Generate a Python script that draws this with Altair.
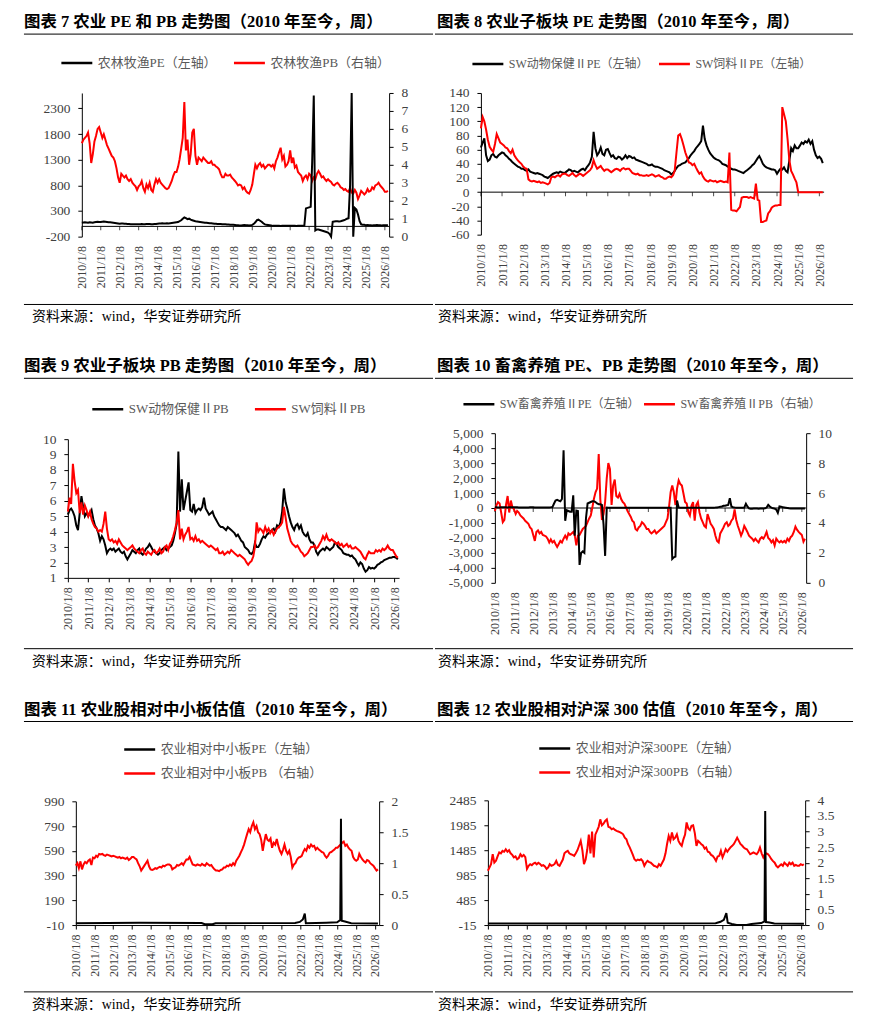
import altair as alt
import pandas as pd

# ------------------------------------------------------------------ dates
MONTH_DATES = list(pd.date_range("2010-01-01", periods=195, freq="MS") + pd.Timedelta(days=7))
YEAR_TICK_DATES = list(pd.to_datetime([f"{y}-01-08" for y in range(2010, 2027)]))

# ------------------------------------------------------------------ 图表7 农林牧渔 PE / PB (monthly, 2010-01 .. 2026-03)
P7_PE = [
    70, 75, 80, 75, 70, 80, 75, 70, 80, 85, 90, 85,
    85, 90, 95, 90, 85, 80, 80, 75, 70, 65, 60, 55,
    50, 55, 55, 50, 50, 45, 45, 40, 40, 40, 40, 40,
    40, 40, 45, 40, 40, 45, 45, 45, 40, 40, 45, 45,
    50, 55, 55, 60, 55, 55, 60, 55, 60, 65, 70, 75,
    80, 85, 100, 120, 150, 175, 160, 140, 150, 130, 120, 110,
    100, 95, 90, 85, 80, 75, 70, 70, 65, 60, 60, 55,
    50, 50, 45, 45, 45, 40, 40, 40, 35, 35, 30, 30,
    30, 25, 20, 20, 15, 15, 20, 25, 20, 20, 15, 20,
    30, 50, 80, 120, 130, 110, 90, 60, 40, 30, 25, 20,
    15, 10, 10, 12, 10, 10, 8, 10, 10, 12, 10, 10,
    10, 12, 10, 10, 8, 10, 10, 12, 10, 15, 350, 360,
    370, 380, 1250, 2550, -80, -60, -60, -70, -80, -90, -100, -110,
    -120, -150, -200, 90, 95, 100, 100, 95, 100, 110, 120, 130,
    150, 160, 800, 3000, -500, 360, 330, 230, 100, 40, 30, 30,
    20, 25, 20, 20, 15, 20, 20, 25, 20, 20, 15, 20,
    20, 20, 20,
]
P7_PB = [
    5.2, 5.4, 5.5, 5.6, 5.8, 5.2, 4.1, 4.6, 5.3, 5.6, 6.0, 6.1,
    5.8, 5.5, 5.7, 5.4, 5.1, 4.9, 4.7, 4.5, 4.4, 4.2, 3.8, 3.3,
    3.0, 3.5, 3.4, 3.3, 3.4, 3.2, 3.1, 3.2, 3.0, 2.9, 2.8, 2.6,
    2.8, 2.9, 3.1, 2.7, 2.5, 2.9, 2.7, 3.0, 2.6, 2.5, 2.9, 3.2,
    3.0, 3.2, 3.0, 2.9, 2.8, 2.7, 2.65, 2.7, 2.9, 3.1, 3.4, 3.6,
    3.6, 3.9, 4.3, 4.9, 5.5, 7.5, 4.8, 5.4, 4.0, 4.6, 5.8, 6.0,
    4.5, 4.0, 4.4, 4.3, 4.2, 4.4, 4.3, 4.2, 4.1, 4.1, 4.2, 4.0,
    4.0, 3.9, 3.85, 3.75, 3.5, 3.3, 3.3, 3.5, 3.4, 3.4, 3.45, 3.3,
    3.2, 3.1, 3.0, 2.85, 2.9, 2.85, 2.65, 2.75, 2.55, 2.45, 2.4, 2.6,
    2.9, 3.5, 4.0, 3.8, 4.0, 4.1, 3.9, 4.0, 3.8, 3.9, 4.0, 4.0,
    3.9, 4.0, 3.8, 4.2, 4.4, 4.7, 4.95, 4.3, 4.5, 3.9, 4.0, 4.2,
    4.8, 4.1, 4.4, 3.85, 3.95, 3.6, 3.5, 3.4, 3.1, 3.3, 3.4, 3.2,
    3.5, 3.4, 3.1, 3.3, 3.2, 3.5, 3.65, 3.5, 3.3, 3.35, 3.2, 3.1,
    3.2, 3.1, 3.05, 2.9, 2.85, 2.95, 3.0, 2.9, 2.75, 2.7, 2.6, 2.65,
    2.55, 2.5, 2.7, 2.45, 2.4, 2.6, 2.45, 2.1, 2.3, 2.55, 2.45, 2.35,
    2.45, 2.65, 2.5, 2.55, 2.75, 2.65, 2.85, 2.9, 3.0, 2.85, 2.75, 2.65,
    2.5, 2.5, 2.55,
]

# ------------------------------------------------------------------ 图表8 子板块 PE
P8_VET_PE = [
    63, 70, 76, 52, 44, 46, 52, 54, 50, 49, 52, 54,
    56, 55, 52, 50, 47, 45, 42, 40, 38, 36, 35, 33,
    33, 31, 30, 32, 29, 28, 27, 26, 27, 26, 25, 24,
    22, 21, 20, 22, 24, 26, 27, 28, 27, 29, 28, 27,
    28, 30, 32, 31, 29, 30, 29, 28, 30, 32, 33, 31,
    35, 38, 42, 50, 85, 62, 52, 56, 63, 54, 52, 60,
    61, 55, 50, 52, 48, 47, 50, 49, 46, 48, 52, 48,
    51, 50, 48, 49, 46, 45, 44, 43, 42, 41, 40, 38,
    38, 39, 37, 36, 36, 35, 34, 33, 31, 30, 29, 28,
    25, 27, 30, 34, 37, 38, 40, 41, 42, 45, 48, 52,
    55, 58, 62, 65, 68, 72, 94, 75, 66, 60, 55, 52,
    49, 47, 46, 45, 43, 40, 39, 38, 36, 35, 33, 32,
    32, 31, 30, 29, 28, 27, 29, 31, 33, 35, 38, 40,
    44, 48, 51, 46, 40, 37, 35, 34, 33, 32, 32, 31,
    26, 30, 33, 32, 35, 30, 28, 45, 62, 58, 66, 62,
    62, 66, 70, 68, 72, 70, 74, 68, 72, 60, 52, 48,
    50, 47, 41,
]
P8_FEED_PE = [
    90, 106, 100, 88, 74, 64, 60, 57, 68, 82, 76, 70,
    68, 66, 63, 62, 58, 55, 60, 52, 48, 45, 42, 40,
    36, 34, 33, 18, 16, 15, 16, 15, 14, 15, 13, 14,
    13, 12, 11, 13, 21, 22, 21, 23, 24, 22, 25, 26,
    26, 24, 23, 25, 27, 24, 22, 24, 26, 25, 23, 25,
    27, 29, 31, 35, 45, 38, 33, 35, 37, 33, 30, 32,
    32, 30, 28, 30, 32, 33, 32, 30, 33, 34, 32, 33,
    33, 30, 27, 26, 25, 26, 24, 24, 23, 23, 24, 23,
    24, 25, 24, 22, 23, 24, 22, 21, 19, 19, 21, 22,
    21, 24, 30, 56, 80, 82, 75, 66, 56, 49, 42, 41,
    38, 40, 35, 30, 26, 28, 22, 18, 16, 15, 17, 16,
    15, 16, 14, 15, 16, 15, 14, 15, 14, 56, -25, -26,
    -26, -27, -24, -21, -8, -7, -7, -7, -8, -7, -8, -9,
    12, -11, -12, -42, -42, -41, -40, -30, -27, -22, -20, -19,
    -19, -18, -18, 120, 110, 100, 75, 45, 30, 25, 19, 14,
    0, 0, 0, 0, 0, 0, 0, 0, 0, 0, 0, 0,
    0, 0, 0,
]

# ------------------------------------------------------------------ 图表9 子板块 PB
P9_VET_PB = [
    5.1, 5.4, 5.5, 5.3, 5.0, 4.4, 4.1, 5.2, 6.3, 5.6, 5.0, 5.2,
    5.0, 5.2, 5.4, 4.8, 4.4, 4.2, 3.9, 3.4, 3.7, 3.5, 3.1, 2.6,
    2.8, 2.9, 2.8, 2.9, 2.7, 2.8, 2.9, 2.7, 2.6, 2.7, 2.4, 2.2,
    2.4, 2.6, 2.8, 2.7, 2.6, 2.8, 2.9, 2.6, 2.5, 2.7, 2.9, 3.0,
    3.2, 3.0, 2.8, 2.7, 2.6, 2.5, 2.6, 2.8, 2.9, 3.0, 2.8, 2.9,
    3.0, 3.1, 3.4, 3.9, 4.5, 9.2, 5.3, 7.4, 5.4, 6.0, 6.6, 7.2,
    5.4, 5.3, 5.8, 5.2, 5.4, 5.5, 5.4, 5.6, 6.2, 5.5, 5.3, 5.1,
    5.2, 5.3, 5.0, 4.8, 4.6, 4.4, 4.3, 4.3, 4.2, 4.1, 4.3, 4.2,
    4.1, 4.0, 3.9, 3.7, 3.8, 3.6, 3.4, 3.3, 3.0, 2.9, 2.8, 2.6,
    2.55, 2.7, 3.25, 3.0, 3.0, 3.2, 3.5, 3.7, 3.6, 3.8, 3.9, 4.0,
    4.1, 4.2, 4.0, 4.4, 4.3, 4.6, 5.3, 6.8, 5.9, 5.5, 5.0, 4.6,
    4.3, 4.1, 4.4, 4.5, 4.2, 4.4, 4.0, 3.8, 3.7, 3.9, 3.5, 3.3,
    3.3, 3.1, 2.7, 2.5, 2.7, 2.8, 2.9, 2.8, 3.0, 2.9, 2.8, 2.9,
    3.0, 3.3, 3.2, 3.0, 2.9, 2.8, 2.6, 2.55, 2.5, 2.5, 2.4, 2.45,
    2.3, 2.2, 2.0, 1.8, 2.0, 1.9, 1.6, 1.4, 1.5, 1.7, 1.6, 1.65,
    1.6, 1.7, 1.85, 1.9, 2.0, 2.05, 2.15, 2.2, 2.25, 2.3, 2.3, 2.35,
    2.35, 2.3, 2.2,
]
P9_FEED_PB = [
    5.3, 6.2, 5.8, 8.4, 7.3, 6.5, 6.7, 5.2, 5.9, 5.1, 5.7, 5.4,
    5.0, 5.3, 4.8, 4.5, 4.3, 4.2, 4.0, 4.1, 4.0, 4.5, 5.3, 4.2,
    3.5, 3.4, 3.5, 3.3, 3.4, 3.2, 3.5, 3.3, 3.1, 3.0, 2.9, 2.8,
    2.9, 3.0, 3.1, 2.9, 2.8, 2.7, 2.6, 2.8, 2.9, 2.6, 2.5, 2.7,
    2.6, 2.5, 2.7, 2.8, 2.6, 2.7, 2.9, 2.6, 2.7, 3.0, 3.1, 2.8,
    3.2, 3.4, 3.7, 4.1, 4.6, 5.4, 3.5, 4.2, 3.5, 3.8, 4.0, 4.3,
    3.5, 3.6, 3.4, 3.7, 3.4, 3.5, 3.3, 3.4, 3.3, 3.2, 3.1, 3.0,
    3.1, 3.0, 2.9, 2.8, 2.9, 2.6, 2.6, 2.7, 2.5, 2.6, 2.7, 2.6,
    2.8, 2.7, 2.6, 2.5, 2.4, 2.5, 2.4, 2.3, 2.2, 2.0, 1.85, 2.0,
    2.1, 2.4, 3.0, 4.6, 4.0, 4.2, 4.1, 3.9, 4.3, 4.0, 4.2, 3.9,
    4.1, 3.8, 4.0, 4.2, 4.3, 4.4, 4.6, 5.6, 4.9, 4.2, 3.8, 3.4,
    3.2, 3.1, 3.0, 3.1, 2.9, 2.7, 2.6, 2.4, 2.5, 2.6, 2.8, 3.0,
    3.0, 3.1, 2.9, 3.0, 3.2, 3.4, 3.7, 3.5, 3.8, 3.5, 3.4, 3.5,
    3.4, 3.3, 3.2, 3.3, 3.1, 3.2, 3.0, 3.1, 3.2, 3.0, 3.1, 2.9,
    2.9, 3.0, 2.9, 2.8, 2.7, 2.5, 2.3, 2.2, 2.5, 2.7, 2.6, 2.6,
    2.6, 2.8, 2.7, 2.8, 2.7, 2.9, 2.8, 2.9, 3.1, 2.9, 2.8, 2.8,
    2.6, 2.4, 2.3,
]

# ------------------------------------------------------------------ 图表10 畜禽养殖 PE / PB
P10_PE = [
    50, 45, 40, 40, 45, 50, 50, 45, 40, 45, 50, 50,
    50, 45, 45, 40, 40, 40, 35, 35, 40, 40, 45, 45,
    45, 40, 40, 40, 35, 35, 35, 40, 40, 40, 40, 45,
    60, 300, 500, 550, 500, 450, 600, 3850, -850, -150, -200, -250,
    -250, 850, -1850, -170, -200, -3800, -3000, -2900, -3000, -700, 300, 350,
    400, 450, 450, 400, 300, 250, 250, 200, -1100, -3200, 30, 20,
    20, 25, 20, 15, 20, 25, 20, 20, 15, 20, 25, 20,
    20, 15, 20, 25, 20, 20, 15, 20, 20, 25, 20, 20,
    20, 20, 25, 20, 15, 20, 20, 25, 20, 20, 15, 20,
    20, 20, 20, -3400, -3300, -3250, 500, 30, 20, 20, 20, 20,
    20, 20, 25, 20, 20, 15, 20, 20, 25, 20, 20, 20,
    20, 25, 20, 20, 20, 25, 30, 40, 60, 80, 100, 150,
    150, 180, 200, 650, 100, 50, 30, 20, 20, 20, 20, 20,
    30, 280, 100, -30, -50, -50, -40, -30, -40, -50, -40, -40,
    -40, -20, 30, 210, 100, 20, -20, -40, -100, -320, 100, 80,
    60, 40, 20, 0, -20, -30, -40, -40, -40, -40, -40, -40,
    -40, -40, -40,
]
P10_PB = [
    4.8, 5.2, 5.4, 5.3, 4.7, 4.05, 4.2, 5.2, 5.8, 4.7, 5.5, 5.05,
    4.9, 4.6, 4.8, 4.7, 4.5, 4.4, 4.3, 4.15, 4.05, 3.95, 3.7, 3.6,
    3.2, 2.8, 3.4, 3.5, 3.3, 3.4, 3.2, 3.15, 3.1, 2.95, 2.7, 2.9,
    2.7, 2.8, 2.6, 2.4, 2.6, 2.8, 2.7, 2.95, 3.15, 2.95, 3.3, 3.2,
    3.3, 3.4, 3.2, 2.5, 3.15, 3.2, 3.4, 3.6, 3.7, 3.8, 4.05, 4.3,
    4.5, 5.05, 5.6, 6.05, 6.3, 8.6, 5.6, 4.2, 4.6, 5.4, 7.0, 8.0,
    7.6, 5.2, 6.5, 6.9, 5.8, 5.7, 5.95, 5.6, 5.4, 5.3, 5.05, 4.8,
    4.6, 4.4, 4.15, 4.05, 3.6, 3.5, 3.7, 3.8, 4.05, 3.95, 3.8, 3.6,
    3.6, 3.4, 3.3, 3.4, 3.5, 3.3, 3.4, 3.5, 3.6, 3.7, 3.8, 4.05,
    4.3, 5.15, 6.05, 6.5, 6.05, 5.2, 6.3, 6.85, 6.6, 6.5, 5.95, 5.4,
    5.3, 4.7, 4.5, 5.15, 5.4, 4.15, 5.2, 5.4, 4.7, 4.3, 4.05, 3.8,
    3.7, 4.6, 4.3, 3.95, 3.8, 3.6, 3.15, 2.8, 2.7, 3.3, 3.5, 3.7,
    3.95, 4.05, 3.8, 3.9, 4.15, 4.3, 4.9, 4.2, 3.8, 3.5, 3.15, 3.4,
    3.8, 3.6, 3.4, 3.15, 3.05, 2.95, 2.8, 2.95, 2.8, 2.7, 2.95, 3.05,
    2.95, 3.15, 3.4, 3.0, 2.9, 2.7, 2.85, 2.5, 2.95, 2.8, 2.7, 2.8,
    2.7, 2.8, 2.7, 2.95, 2.8, 3.05, 3.15, 3.4, 3.75, 3.55, 3.4, 3.3,
    3.2, 2.75, 2.95,
]

# ------------------------------------------------------------------ 图表11 相对中小板
P11_PE_DATES = ["2010-01-08", "2013-06-01", "2016-10-01", "2016-12-01", "2017-05-01",
                "2017-07-01", "2021-10-01", "2022-01-01", "2022-03-01", "2022-04-08",
                "2022-04-29", "2023-06-01", "2024-01-01", "2024-03-01", "2024-03-15",
                "2024-03-29", "2024-06-01", "2024-10-01", "2026-03-08"]
P11_PE = [5, 8, 6, -3, -4, 5, 6, 15, 35, 82, 4, 8, 12, 30, 850, 25, 18, 5, 2]
P11_PB = [
    0.96, 1.0, 0.92, 1.03, 0.9, 0.98, 1.02, 1.0, 1.04, 1.06, 0.97, 1.09,
    1.08, 1.12, 1.1, 1.15, 1.14, 1.15, 1.13, 1.12, 1.14, 1.13, 1.12, 1.11,
    1.12, 1.11, 1.1, 1.09, 1.1, 1.08, 1.09, 1.08, 1.07, 1.09, 1.05, 1.07,
    1.1, 1.1, 1.08, 1.06, 1.0, 0.95, 0.88, 0.92, 0.96, 1.0, 1.04, 0.95,
    0.9, 0.89, 0.9, 0.92, 0.91, 0.93, 0.94, 0.93, 0.96, 0.95, 0.97, 0.98,
    0.98, 0.96, 0.9, 0.92, 0.93, 0.97, 0.96, 0.98, 1.0, 0.97, 1.02, 1.06,
    1.06, 1.1, 1.04, 0.98, 0.97, 0.96, 0.98, 0.97, 0.96, 0.99, 0.97, 0.96,
    1.0, 0.98, 0.96, 0.97, 0.93, 0.9, 0.88, 0.88, 0.87, 0.89, 0.9, 0.93,
    0.93, 0.96, 0.95, 0.98, 0.96, 1.0, 0.97, 1.04, 1.08, 1.12, 1.18, 1.23,
    1.3, 1.39, 1.47, 1.55, 1.5, 1.6, 1.66, 1.55, 1.6, 1.5, 1.47, 1.38,
    1.2, 1.35, 1.47, 1.38, 1.36, 1.4, 1.25, 1.33, 1.3, 1.39, 1.28, 1.2,
    1.15, 1.22, 1.3, 1.2, 1.15, 1.2, 1.1, 0.93, 0.98, 1.0, 1.06, 1.09,
    1.1, 1.12, 1.18, 1.23, 1.2, 1.28, 1.25, 1.3, 1.27, 1.28, 1.22, 1.25,
    1.22, 1.2, 1.18, 1.17, 1.12, 1.09, 1.12, 1.17, 1.18, 1.2, 1.22, 1.25,
    1.25, 1.28, 1.3, 1.33, 1.35, 1.28, 1.3, 1.25, 1.22, 1.2, 1.1, 1.06,
    1.04, 1.06, 1.15, 1.1, 1.06, 1.03, 1.01, 1.05, 1.04, 1.0, 0.98, 0.96,
    0.92, 0.88, 0.9,
]

# ------------------------------------------------------------------ 图表12 相对沪深300
P12_PE_DATES = ["2010-01-08", "2015-06-01", "2021-09-01", "2021-12-01", "2022-02-01",
                "2022-03-20", "2022-04-15", "2022-07-01", "2022-10-01", "2023-04-01",
                "2023-07-01", "2024-01-01", "2024-03-01", "2024-03-15", "2024-03-29",
                "2024-06-01", "2024-09-01", "2026-03-08"]
P12_PE = [15, 18, 20, 50, 90, 225, 30, 5, -12, -15, 5, 25, 60, 2270, 45, 35, 15, 12]
P12_PB = [
    1.74, 1.85, 1.95, 2.27, 2.0, 2.06, 2.2, 2.33, 2.3, 2.38, 2.35, 2.43,
    2.35, 2.4, 2.3, 2.25, 2.17, 2.2, 2.11, 2.15, 2.27, 2.2, 2.25, 2.18,
    1.8, 1.9, 1.95, 1.92, 1.97, 2.0, 1.95, 2.0, 1.96, 1.9, 1.92, 1.88,
    1.8, 1.85, 1.95, 1.9, 1.92, 1.96, 2.06, 1.93, 1.9, 2.0, 2.1, 2.3,
    2.35, 2.38, 2.3, 2.27, 2.25, 2.22, 2.3, 2.4, 2.55, 2.7, 2.4, 1.95,
    2.1, 2.43, 2.9, 2.3, 3.0, 2.17, 2.9, 3.02, 3.15, 3.39, 3.2, 3.25,
    3.34, 3.39, 3.15, 3.13, 3.07, 3.1, 3.05, 3.02, 3.0, 2.98, 2.95, 2.91,
    2.8, 2.75, 2.6, 2.5, 2.38, 2.25, 2.11, 2.06, 2.1, 2.08, 2.11, 2.05,
    1.9, 2.0, 2.06, 2.02, 2.0, 1.95, 1.9, 1.88, 1.85, 1.95, 1.9, 2.0,
    2.1, 2.3, 2.59, 2.86, 2.7, 2.97, 2.75, 2.8, 2.91, 2.7, 2.6, 2.54,
    2.75, 2.9, 3.29, 3.1, 3.05, 3.18, 3.2, 2.95, 2.54, 2.7, 2.65, 2.59,
    2.55, 2.45, 2.49, 2.35, 2.33, 2.25, 2.22, 2.15, 2.06, 2.2, 2.22, 2.38,
    2.17, 2.3, 2.43, 2.35, 2.43, 2.5, 2.54, 2.6, 2.7, 2.8, 2.7, 2.6,
    2.55, 2.49, 2.45, 2.43, 2.35, 2.27, 2.3, 2.33, 2.3, 2.27, 2.35, 2.49,
    2.3, 2.17, 2.27, 2.3, 2.27, 2.2, 2.11, 2.05, 2.0, 1.9, 1.85, 1.9,
    1.95, 1.9, 2.0, 1.95, 1.9, 2.0, 1.95, 2.0, 1.9, 1.93, 1.9, 1.9,
    1.95, 1.92, 1.95,
]

# ------------------------------------------------------------------ texts
TITLES = {
    7: "图表 7 农业 PE 和 PB 走势图（2010 年至今，周）",
    8: "图表 8 农业子板块 PE 走势图（2010 年至今，周）",
    9: "图表 9 农业子板块 PB 走势图（2010 年至今，周）",
    10: "图表 10 畜禽养殖 PE、PB 走势图（2010 年至今，周）",
    11: "图表 11 农业股相对中小板估值（2010 年至今，周）",
    12: "图表 12 农业股相对沪深 300 估值（2010 年至今，周）",
}
LEGENDS = {
    7: ["农林牧渔PE（左轴）", "农林牧渔PB（右轴）"],
    8: ["SW动物保健ⅡPE（左轴）", "SW饲料ⅡPE（左轴）"],
    9: ["SW动物保健ⅡPB", "SW饲料ⅡPB"],
    10: ["SW畜禽养殖ⅡPE（左轴）", "SW畜禽养殖ⅡPB（右轴）"],
    11: ["农业相对中小板PE（左轴）", "农业相对中小板PB （右轴）"],
    12: ["农业相对沪深300PE（左轴）", "农业相对沪深300PB（右轴）"],
}
SOURCE = "资料来源：wind，华安证券研究所"

for arr in [P7_PE, P7_PB, P8_VET_PE, P8_FEED_PE, P9_VET_PB, P9_FEED_PB,
            P10_PE, P10_PB, P11_PB, P12_PB]:
    assert len(arr) == len(MONTH_DATES), len(arr)

# ------------------------------------------------------------------ styling helpers
SERIF = "Liberation Serif, Noto Sans CJK SC"
BLACK = "#000000"
RED = "#FF0000"
LABEL = "#404040"
ONE = pd.DataFrame({"k": [0]})
TICKS_DF = pd.DataFrame({"date": YEAR_TICK_DATES})
X_DOMAIN = [alt.DateTime(year=2010, month=1, date=8), alt.DateTime(year=2026, month=3, date=31)]
X_VALUES = [alt.DateTime(year=y, month=1, date=8) for y in range(2010, 2027)]


def x_axis(line_bottom, offset):
    return alt.Axis(orient="bottom", offset=offset, values=X_VALUES, format="%Y/%-m/%-d",
                    labelAngle=270, title=None, grid=False,
                    domain=line_bottom, ticks=line_bottom, tickSize=4 if line_bottom else 0,
                    labelPadding=5 if line_bottom else 9, labelFont="Liberation Serif",
                    labelFontSize=12, labelColor=LABEL, labelOverlap=False, labelBound=False,
                    labelFlush=False, domainColor=BLACK, tickColor=BLACK)


def y_axis(orient, offset, values, fmt):
    return alt.Axis(orient=orient, offset=offset, values=values, format=fmt, title=None,
                    grid=False, domain=True, domainColor=BLACK, ticks=True, tickColor=BLACK,
                    tickSize=4, labelPadding=8, labelFont="Liberation Serif",
                    labelFontSize=13.5, labelColor=LABEL, labelOverlap=False,
                    labelBound=False, labelFlush=False)


def legend(lx, ly, direction, col_pad=15, row_pad=8, font_size=13):
    return alt.Legend(orient="none", legendX=lx, legendY=ly, direction=direction, title=None,
                      symbolType="stroke", symbolSize=961, symbolStrokeWidth=2.5, clipHeight=16,
                      labelFont=SERIF, labelFontSize=font_size, labelColor="#595959",
                      labelOffset=4, columnPadding=col_pad, rowPadding=row_pad, labelLimit=400,
                      padding=0)


def build_panel(p):
    bx0, by0, bx1, by1 = p["box"]
    W, H = bx1 - bx0, by1 - by0
    pl, pt, pr, pb = p["plot"]
    xl, xr, yt, yb = pl - bx0, pr - bx0, pt - by0, pb - by0
    xsc = alt.Scale(domain=X_DOMAIN, range=[xl, xr])
    xax = x_axis(p["x_line_bottom"], yb - H)
    labels = LEGENDS[p["num"]]
    lgx, lgy = p["legend_pos"]
    leg = legend(lgx - bx0, lgy - 8 - by0, p["legend_dir"], p["col_pad"],
                 font_size=p.get("legend_font", 13))

    def ysc(dom):
        return alt.Scale(domain=dom, range=[yb, yt], nice=False, zero=False, clamp=True)

    def axis_for(spec):
        if spec is None:
            return None
        orient, values, fmt = spec
        off = -xl if orient == "left" else xr - W
        return y_axis(orient, off, values, fmt)

    def line_layer(dates, values, label, dom, axspec):
        df = pd.DataFrame({"date": pd.to_datetime(dates), "value": values, "series": label})
        return alt.Chart(df).mark_line(strokeWidth=2).encode(
            x=alt.X("date:T", scale=xsc, axis=xax),
            y=alt.Y("value:Q", scale=ysc(dom), axis=axis_for(axspec)),
            color=alt.Color("series:N", scale=alt.Scale(domain=labels, range=[BLACK, RED]),
                            legend=leg),
        )

    layers = []
    if p.get("zero_dom") is not None:
        zs = ysc(p["zero_dom"])
        layers.append(alt.Chart(ONE).mark_rule(color=BLACK, strokeWidth=1).encode(
            x=alt.value(xl), x2=alt.value(xr), y=alt.YDatum(0, scale=zs, axis=None)))
        layers.append(alt.Chart(TICKS_DF).mark_tick(color=BLACK, thickness=1, size=4, yOffset=2,
                                                    orient="vertical").encode(
            x=alt.X("date:T", scale=xsc, axis=xax),
            y=alt.YDatum(0, scale=zs, axis=None)))
    bd, bv = p["black"]
    rd, rv = p["red"]
    black = line_layer(bd, bv, labels[0], p["black_dom"], p["black_axis"])
    red = line_layer(rd, rv, labels[1], p["red_dom"], p["red_axis"])
    layers += [red, black] if p["red_first"] else [black, red]

    # frame of the panel (invisible) so every panel has exactly its box size
    layers.append(alt.Chart(ONE).mark_rule(opacity=0).encode(
        x=alt.value(0), x2=alt.value(W), y=alt.value(0), y2=alt.value(H)))
    tx, ty = p["title_xy"]
    layers.append(alt.Chart(pd.DataFrame({"t": [TITLES[p["num"]]]})).mark_text(
        align="left", baseline="middle", font=SERIF, fontSize=16.5, fontWeight="bold", color=BLACK
    ).encode(x=alt.value(tx - bx0), y=alt.value(ty - by0), text="t:N"))
    lx0, lx1 = p["rule_x"]
    for ry in (p["rule_y"], p["src_rule_y"]):
        layers.append(alt.Chart(ONE).mark_rule(color=BLACK, strokeWidth=1).encode(
            x=alt.value(lx0 - bx0), x2=alt.value(lx1 - bx0), y=alt.value(ry - by0)))
    sx, sy = p["src_xy"]
    layers.append(alt.Chart(pd.DataFrame({"t": [SOURCE]})).mark_text(
        align="left", baseline="middle", font=SERIF, fontSize=14, color=BLACK
    ).encode(x=alt.value(sx - bx0), y=alt.value(sy - by0), text="t:N"))
    return alt.layer(*layers).resolve_scale(y="independent").properties(width=W, height=H)


panels = {
    7: dict(num=7, box=(8, 8, 434, 346), plot=(82, 92, 390, 236),
            title_xy=(24, 21), rule_x=(24, 434), rule_y=33, src_rule_y=304, src_xy=(32, 317),
            black=(MONTH_DATES, P7_PE), red=(MONTH_DATES, P7_PB),
            black_dom=[-200, 2600], red_dom=[0, 8],
            black_axis=("left", [-200, 300, 800, 1300, 1800, 2300], "d"),
            red_axis=("right", [0, 1, 2, 3, 4, 5, 6, 7, 8], "d"),
            x_line_bottom=False, zero_dom=[-200, 2600], red_first=True,
            legend_pos=(60, 62), legend_dir="horizontal", col_pad=15),
    8: dict(num=8, box=(434, 8, 870, 346), plot=(480, 92, 824, 234),
            title_xy=(436, 21), rule_x=(434, 853), rule_y=33, src_rule_y=304, src_xy=(437, 317),
            black=(MONTH_DATES, P8_VET_PE), red=(MONTH_DATES, P8_FEED_PE),
            black_dom=[-60, 140], red_dom=[-60, 140],
            black_axis=("left", [-60, -40, -20, 0, 20, 40, 60, 80, 100, 120, 140], "d"),
            red_axis=None,
            x_line_bottom=False, zero_dom=[-60, 140], red_first=False,
            legend_pos=(470, 63), legend_dir="horizontal", col_pad=8, legend_font=12),
    9: dict(num=9, box=(8, 346, 434, 690), plot=(68, 439, 400, 578),
            title_xy=(24, 366), rule_x=(24, 434), rule_y=378, src_rule_y=649, src_xy=(32, 662),
            black=(MONTH_DATES, P9_VET_PB), red=(MONTH_DATES, P9_FEED_PB),
            black_dom=[1, 10], red_dom=[1, 10],
            black_axis=("left", [1, 2, 3, 4, 5, 6, 7, 8, 9, 10], "d"),
            red_axis=None,
            x_line_bottom=True, zero_dom=None, red_first=False,
            legend_pos=(91, 409), legend_dir="horizontal", col_pad=24),
    10: dict(num=10, box=(434, 346, 870, 690), plot=(494, 433, 806, 583),
             title_xy=(436, 366), rule_x=(434, 853), rule_y=378, src_rule_y=649, src_xy=(437, 662),
             black=(MONTH_DATES, P10_PE), red=(MONTH_DATES, P10_PB),
             black_dom=[-5000, 5000], red_dom=[0, 10],
             black_axis=("left", [-5000, -4000, -3000, -2000, -1000, 0, 1000, 2000, 3000, 4000, 5000], ",d"),
             red_axis=("right", [0, 2, 4, 6, 8, 10], "d"),
             x_line_bottom=False, zero_dom=[-5000, 5000], red_first=True,
             legend_pos=(461, 404), legend_dir="horizontal", col_pad=2, legend_font=12),
    11: dict(num=11, box=(8, 690, 434, 1016), plot=(76, 802, 380, 926),
             title_xy=(24, 710), rule_x=(24, 434), rule_y=722, src_rule_y=993, src_xy=(32, 1006),
             black=(P11_PE_DATES, P11_PE), red=(MONTH_DATES, P11_PB),
             black_dom=[-10, 990], red_dom=[0, 2],
             black_axis=("left", [-10, 190, 390, 590, 790, 990], "d"),
             red_axis=("right", [0, 0.5, 1, 1.5, 2], "~g"),
             x_line_bottom=True, zero_dom=None, red_first=True,
             legend_pos=(123, 750), legend_dir="vertical", col_pad=10),
    12: dict(num=12, box=(434, 690, 870, 1016), plot=(487, 801, 805, 926),
             title_xy=(436, 710), rule_x=(434, 853), rule_y=722, src_rule_y=993, src_xy=(437, 1006),
             black=(P12_PE_DATES, P12_PE), red=(MONTH_DATES, P12_PB),
             black_dom=[-15, 2485], red_dom=[0, 4],
             black_axis=("left", [-15, 485, 985, 1485, 1985, 2485], "d"),
             red_axis=("right", [0, 0.5, 1, 1.5, 2, 2.5, 3, 3.5, 4], "~g"),
             x_line_bottom=True, zero_dom=None, red_first=True,
             legend_pos=(537, 749), legend_dir="vertical", col_pad=10),
}

charts = {k: build_panel(v) for k, v in panels.items()}

row1 = alt.hconcat(charts[7], charts[8], spacing=0).resolve_scale(color="independent")
row2 = alt.hconcat(charts[9], charts[10], spacing=0).resolve_scale(color="independent")
row3 = alt.hconcat(charts[11], charts[12], spacing=0).resolve_scale(color="independent")

chart = (
    alt.vconcat(row1, row2, row3, spacing=0)
    .resolve_scale(color="independent")
    .properties(padding=0, background="white")
    .configure(locale=alt.Locale(number=alt.NumberLocale(
        decimal=".", thousands=",", grouping=[3], currency=["", ""], minus="-")))
    .configure_view(stroke=None)
)

chart.save("out.html", embed_options={"renderer": "svg", "actions": False})
